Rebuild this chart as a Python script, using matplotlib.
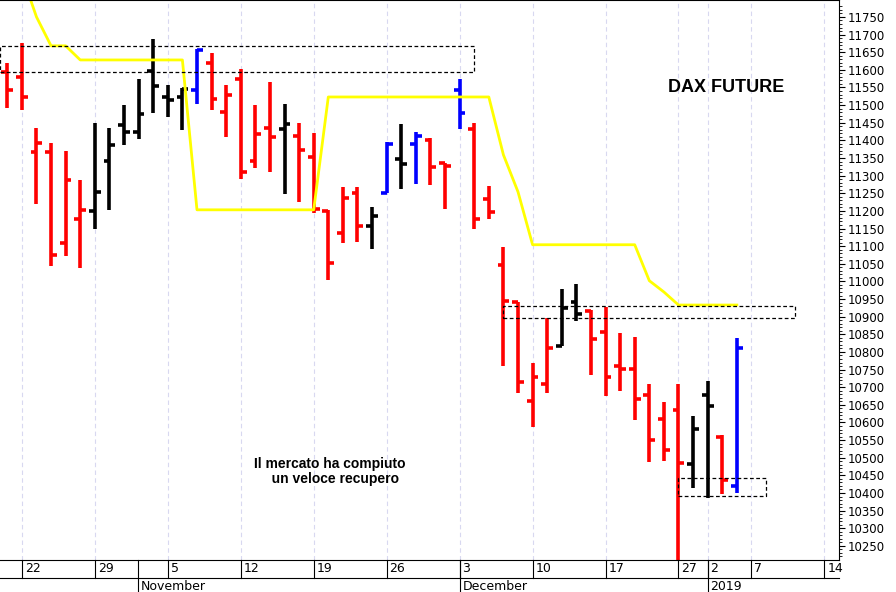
import matplotlib
matplotlib.use("Agg")
import matplotlib.pyplot as plt
import numpy as np

plt.rcParams['font.family'] = ['Liberation Sans Narrow', 'DejaVu Sans']

# --- data: one bar per trading day, index 0 = 22 Oct 2018 ---
idx = list(range(-1, 50))
highs = [11620, 11676, 11435, 11393, 11370, 11288, 11449, 11435, 11500, 11574,
         11688, 11557, 11549, 11659, 11648, 11557, 11603, 11500, 11566, 11503,
         11449, 11421, 11203, 11268, 11268, 11211, 11396, 11447, 11424, 11407,
         11336, 11574, 11449, 11271, 11098, 10942, 10769, 10897, 10979, 10993,
         10919, 10928, 10854, 10843, 10709, 10658, 10709, 10619, 10718, 10565,
         10840]
lows = [11492, 11486, 11220, 11044, 11072, 11038, 11149, 11203, 11387, 11404,
        11478, 11466, 11430, 11503, 11486, 11410, 11291, 11322, 11311, 11248,
        11225, 11194, 11004, 11109, 11112, 11092, 11251, 11262, 11277, 11274,
        11206, 11432, 11149, 11177, 10760, 10684, 10587, 10684, 10817, 10888,
        10735, 10675, 10690, 10607, 10488, 10491, 10195, 10415, 10386, 10398,
        10400]
opens = [11594, 11580, 11367, 11367, 11109, 11177, 11200, 11342, 11444, 11424,
         11597, 11523, 11523, 11543, 11620, 11481, 11574, 11342, 11435, 11432,
         11413, 11353, 11200, 11138, 11251, 11157, 11251, 11347, 11390, 11401,
         11336, 11543, 11432, 11234, 11047, 10942, 10661, 10709, 10817, 10942,
         10916, 10857, 10760, 10752, 10678, 10610, 10636, 10483, 10678, 10559,
         10420]
closes = [11543, 11523, 11393, 11075, 11288, 11203, 11254, 11387, 11424, 11475,
          11554, 11515, 11546, 11656, 11518, 11529, 11311, 11418, 11410, 11447,
          11373, 11206, 11052, 11237, 11157, 11186, 11390, 11333, 11413, 11325,
          11328, 11478, 11177, 11197, 10945, 10715, 10729, 10811, 10925, 10908,
          10837, 10729, 10752, 10667, 10551, 10522, 10485, 10582, 10647, 10437,
          10811]
colors = ['r'] * 6 + ['k'] * 7 + ['b'] + ['r'] * 5 + ['k'] + ['r'] * 5 \
    + ['k', 'b', 'k', 'b', 'r', 'r', 'b'] + ['r'] * 6 + ['k', 'k'] + ['r'] * 7 \
    + ['k', 'k', 'r', 'b']
color_map = {'r': '#ff0000', 'k': '#000000', 'b': '#0000ff'}

# yellow stop line
stop_x = [0.6, 1, 2, 3, 4, 11, 12, 20, 21, 32, 33, 34, 35, 42, 43, 44, 45, 49]
stop_y = [11798, 11750, 11668, 11668, 11628, 11628, 11203, 11203, 11523, 11523,
          11359, 11254, 11104, 11104, 11002, 10970, 10933, 10933]

# dashed boxes: (x0, x1, y0, y1)
boxes = [(-1.5, 31, 11594, 11668), (33, 53, 10896, 10930), (45, 51, 10392, 10443)]

day_ticks = [0, 5, 10, 15, 20, 25, 30, 35, 40, 45, 47, 50, 55]
day_labels = ["22", "29", "5", "12", "19", "26", "3", "10", "17", "27", "2", "7", "14"]
month_pos = [7.95, 30, 47]
month_labels = ["November", "December", "2019"]

fig = plt.figure(figsize=(8.96, 5.92), dpi=100)
ax = fig.add_axes([0, 32 / 592, 839 / 896, 560 / 592])
ax.set_xlim(-1.5, 56)
ax.set_ylim(10210, 11798)

for x in day_ticks:
    ax.axvline(x, color='#d8d8f0', lw=0.8, ls=(0, (4, 3)), zorder=0)

for x, h, l, o, c, col in zip(idx, highs, lows, opens, closes, colors):
    cc = color_map[col]
    ax.plot([x, x], [l, h], color=cc, lw=2.6, solid_capstyle='butt')
    ax.plot([x - 0.4, x], [o, o], color=cc, lw=2.6, solid_capstyle='butt')
    ax.plot([x, x + 0.4], [c, c], color=cc, lw=2.6, solid_capstyle='butt')

ax.plot(stop_x, stop_y, color='#ffff00', lw=2)

for x0, x1, y0, y1 in boxes:
    ax.plot([x0, x1, x1, x0, x0], [y0, y0, y1, y1, y0], color='black', lw=0.9,
            ls=(0, (3, 2)))

ax.text(48.3, 11550, "DAX FUTURE", fontsize=13, fontweight='bold',
        family=['Liberation Sans', 'DejaVu Sans'], ha='center', va='center')
ax.text(21.1, 10460, "Il mercato ha compiuto\n   un veloce recupero", fontsize=10,
        fontweight='bold', family=['Liberation Sans', 'DejaVu Sans'], ha='center',
        va='center', linespacing=1.1)

# right price axis
ax.yaxis.tick_right()
ax.set_yticks(np.arange(10250, 11751, 50))
ax.set_yticks(np.arange(10220, 11790, 10), minor=True)
ax.tick_params(axis='y', labelsize=8.5, length=4, pad=2)
ax.tick_params(axis='y', which='minor', length=2)
ax.set_xticks([])
ax.spines['left'].set_visible(False)

# two-row date axis
tr = ax.get_xaxis_transform()
row = 18 / 560
for x, lab in zip(day_ticks, day_labels):
    ax.plot([x, x], [0, -row], color='black', lw=0.8, transform=tr, clip_on=False)
    ax.text(x + 0.2, -0.004, lab, transform=tr, va='top', ha='left', fontsize=9)
ax.plot([-1.5, 56], [-row, -row], color='black', lw=0.8, transform=tr, clip_on=False)
for x, lab in zip(month_pos, month_labels):
    ax.plot([x, x], [0, -2 * row], color='black', lw=0.8, transform=tr, clip_on=False)
    ax.text(x + 0.2, -row - 0.003, lab, transform=tr, va='top', ha='left', fontsize=9)

fig.savefig("out.png", dpi=100)
